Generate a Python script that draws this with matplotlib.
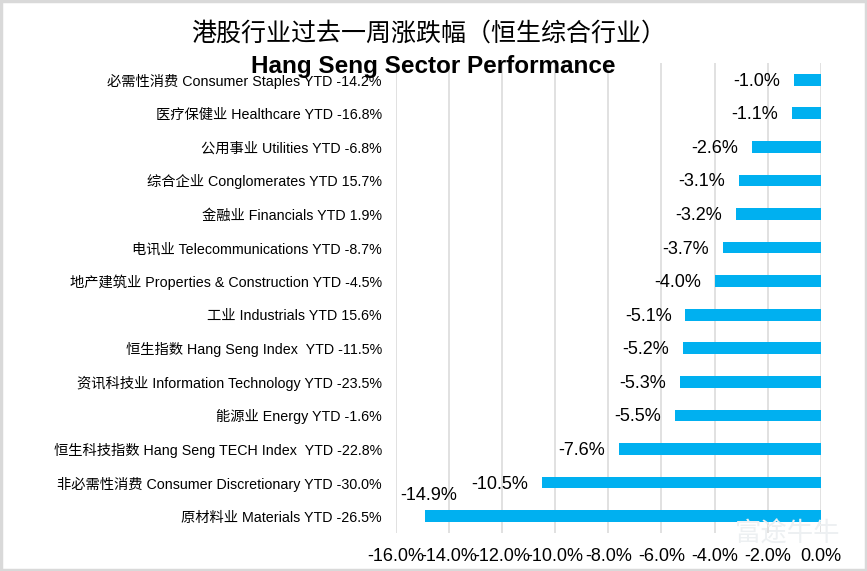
import matplotlib
matplotlib.use("Agg")
import matplotlib.pyplot as plt
from matplotlib.patches import Rectangle

plt.rcParams['font.family'] = ['Liberation Sans', 'Noto Sans CJK SC', 'DejaVu Sans']

categories = [
    "必需性消费 Consumer Staples YTD -14.2%",
    "医疗保健业 Healthcare YTD -16.8%",
    "公用事业 Utilities YTD -6.8%",
    "综合企业 Conglomerates YTD 15.7%",
    "金融业 Financials YTD 1.9%",
    "电讯业 Telecommunications YTD -8.7%",
    "地产建筑业 Properties & Construction YTD -4.5%",
    "工业 Industrials YTD 15.6%",
    "恒生指数 Hang Seng Index  YTD -11.5%",
    "资讯科技业 Information Technology YTD -23.5%",
    "能源业 Energy YTD -1.6%",
    "恒生科技指数 Hang Seng TECH Index  YTD -22.8%",
    "非必需性消费 Consumer Discretionary YTD -30.0%",
    "原材料业 Materials YTD -26.5%",
]
values = [-1.0, -1.1, -2.6, -3.1, -3.2, -3.7, -4.0, -5.1, -5.2, -5.3, -5.5, -7.6, -10.5, -14.9]
xticks = [-16, -14, -12, -10, -8, -6, -4, -2, 0]

title_cn = "港股行业过去一周涨跌幅（恒生综合行业）"
title_en = "Hang Seng Sector Performance"

fig = plt.figure(figsize=(8.67, 5.71), dpi=100)
ax = fig.add_axes([0.4564, 0.0666, 0.4905, 0.8231])

pos = list(range(len(values)))
ax.barh(pos, values, height=0.35, color="#00B0F0", zorder=3)
ax.set_ylim(len(values) - 0.5, -0.5)
ax.set_xlim(xticks[0], xticks[-1])
ax.set_xticks(xticks)
ax.set_xticklabels([f"{t:.1f}%" for t in xticks], fontsize=13)
ax.set_yticks(pos)
ax.set_yticklabels(categories, fontsize=10.3)
ax.tick_params(axis='x', length=0, pad=11)
ax.tick_params(axis='y', length=0, pad=10)
ax.grid(axis='x', color="#D9D9D9", linewidth=1.1, zorder=0)
for s in ax.spines.values():
    s.set_visible(False)

xmin = xticks[0]
for p, v in zip(pos, values):
    txt = f"{v:.1f}%"
    if v - xmin > 2.8:
        ax.annotate(txt, xy=(v, p), xytext=(-10, -1), textcoords='offset points',
                    ha='right', va='center', fontsize=13)
    else:
        ax.annotate(txt, xy=(xmin, p), xytext=(3, 15), textcoords='offset points',
                    ha='left', va='center', fontsize=13)

fig.text(0.494, 0.942, title_cn, ha='center', va='center', fontsize=18,
         family=['Noto Sans CJK SC'], color='#000000')
fig.text(0.5, 0.884, title_en, ha='center', va='center', fontsize=17.5,
         fontweight='bold', family=['Liberation Sans'])

# watermark
fig.text(0.908, 0.064, "富途牛牛", ha='center', va='center', fontsize=19,
         family=['Noto Sans CJK SC'], color='#EDF0F2', zorder=0)

fig.patches.append(Rectangle((0.0015, 0.002), 0.997, 0.996, transform=fig.transFigure,
                             fill=False, edgecolor="#D9D9D9", linewidth=2.5))

fig.savefig("out.png", dpi=100)
